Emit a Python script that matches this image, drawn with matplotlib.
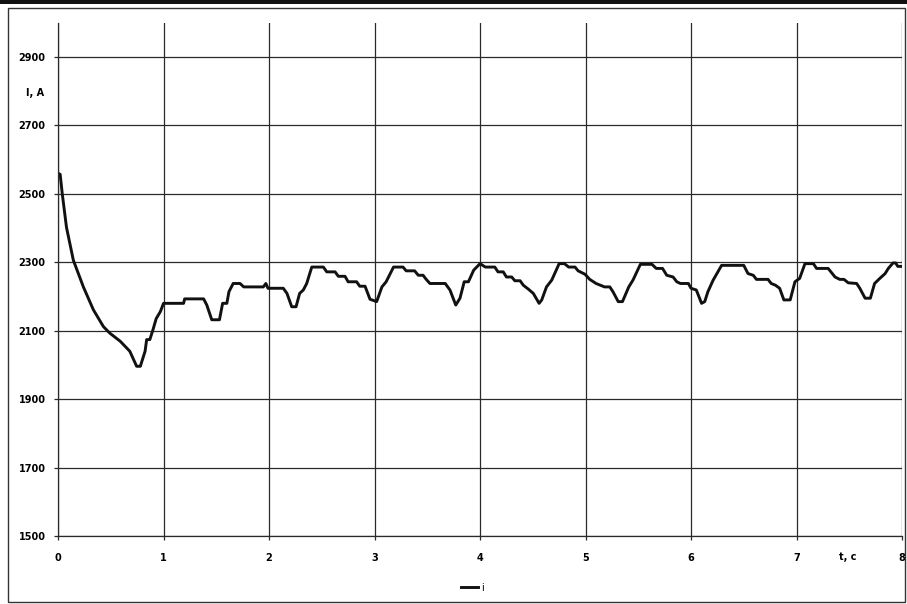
import numpy as np
import matplotlib
matplotlib.use("Agg")
import matplotlib.pyplot as plt
from matplotlib.patches import Rectangle

# кривая тока i(t)
t = [0.00, 0.02, 0.04, 0.08, 0.145, 0.24, 0.335, 0.43, 0.49, 0.59, 0.68, 0.73, 0.745, 0.78,
     0.825, 0.84, 0.87, 0.90, 0.93, 0.97, 1.00, 1.19, 1.20, 1.38, 1.41, 1.457, 1.53, 1.56,
     1.60, 1.62, 1.66, 1.725, 1.76, 1.946, 1.97, 1.99, 2.135, 2.17, 2.215, 2.256, 2.29,
     2.325, 2.357, 2.405, 2.515, 2.547, 2.626, 2.657, 2.72, 2.75, 2.83, 2.86, 2.91, 2.957,
     3.02, 3.07, 3.11, 3.18, 3.27, 3.30, 3.38, 3.415, 3.46, 3.49, 3.525, 3.67, 3.715, 3.77,
     3.81, 3.85, 3.89, 3.94, 4.00, 4.05, 4.14, 4.17, 4.22, 4.25, 4.30, 4.33, 4.38, 4.41,
     4.46, 4.505, 4.56, 4.585, 4.63, 4.68, 4.75, 4.80, 4.84, 4.90, 4.93, 4.995, 5.04, 5.10,
     5.18, 5.23, 5.26, 5.31, 5.35, 5.41, 5.45, 5.52, 5.63, 5.67, 5.73, 5.77, 5.83, 5.865,
     5.90, 5.975, 6.00, 6.05, 6.10, 6.13, 6.16, 6.21, 6.29, 6.50, 6.54, 6.59, 6.62, 6.73,
     6.76, 6.80, 6.84, 6.88, 6.94, 6.985, 7.03, 7.08, 7.16, 7.19, 7.30, 7.365, 7.41, 7.45,
     7.49, 7.57, 7.60, 7.65, 7.70, 7.74, 7.79, 7.84, 7.87, 7.915, 7.94, 7.96, 7.99]
i = [2560, 2557, 2500, 2402, 2306, 2228, 2161, 2112, 2093, 2069, 2040, 2006, 1996, 1996,
     2040, 2074, 2074, 2103, 2135, 2156, 2180, 2180, 2193, 2193, 2175, 2132, 2132, 2180,
     2180, 2214, 2238, 2238, 2228, 2228, 2238, 2224, 2224, 2209, 2170, 2170, 2209,
     2219, 2238, 2286, 2286, 2272, 2272, 2259, 2259, 2243, 2243, 2230, 2230, 2192,
     2185, 2228, 2243, 2286, 2286, 2275, 2275, 2262, 2262, 2250, 2238, 2238, 2219, 2175,
     2195, 2243, 2243, 2277, 2296, 2286, 2286, 2272, 2272, 2257, 2257, 2246, 2246, 2233,
     2221, 2209, 2180, 2190, 2228, 2248, 2296, 2296, 2286, 2286, 2275, 2265, 2250, 2238,
     2228, 2228, 2214, 2185, 2185, 2228, 2248, 2294, 2294, 2282, 2282, 2262, 2257, 2243,
     2238, 2238, 2224, 2219, 2180, 2185, 2214, 2248, 2291, 2291, 2267, 2262, 2250, 2250,
     2238, 2233, 2224, 2190, 2190, 2243, 2253, 2296, 2296, 2282, 2282, 2257, 2250, 2250,
     2240, 2238, 2224, 2195, 2195, 2238, 2253, 2267, 2282, 2298, 2298, 2288, 2288]

x_ticks = [0, 1, 2, 3, 4, 5, 6, 7, 8]
y_ticks = [1500, 1700, 1900, 2100, 2300, 2500, 2700, 2900]

fig = plt.figure(figsize=(9.07, 6.04), dpi=100)
ax = fig.add_axes([0.064, 0.1126, 0.9305, 0.8497])

ax.plot(t, i, color="#111111", linewidth=2.1, label="i", solid_joinstyle="round")

ax.set_xlim(0, 8)
ax.set_ylim(1500, 3000)
ax.set_xticks(x_ticks)
ax.set_yticks(y_ticks)
ax.grid(True, color="#2a2a2a", linewidth=0.9)
ax.set_axisbelow(True)

for s in ["top", "right"]:
    ax.spines[s].set_visible(False)
for s in ["left", "bottom"]:
    ax.spines[s].set_color("#2a2a2a")
    ax.spines[s].set_linewidth(0.9)

ax.tick_params(axis="both", direction="out", length=3, width=0.9, color="#2a2a2a",
               labelsize=7)
ax.tick_params(axis="x", pad=9)
ax.tick_params(axis="y", pad=6)
for lbl in ax.get_xticklabels() + ax.get_yticklabels():
    lbl.set_fontweight("bold")

# подписи осей
ax.text(-0.218, 2795, "I, A", fontsize=7, fontweight="bold", ha="center", va="center",
        clip_on=False)
ax.text(7.49, 1438, "t, c", fontsize=7, fontweight="bold", ha="center", va="center",
        clip_on=False)

leg = fig.legend(loc="center", bbox_to_anchor=(0.521, 0.027), frameon=False,
                 fontsize=7, handlelength=1.8, handletextpad=0.3)

# рамка вокруг диаграммы
fig.patches.append(Rectangle((8 / 907, 2 / 604), 897 / 907, 594 / 604,
                             transform=fig.transFigure, fill=False,
                             edgecolor="#333333", linewidth=1.0))
fig.patches.append(Rectangle((0, 1 - 4 / 604), 1, 4 / 604, transform=fig.transFigure,
                             facecolor="#111111", edgecolor="none"))

fig.savefig("out.png", dpi=100)
